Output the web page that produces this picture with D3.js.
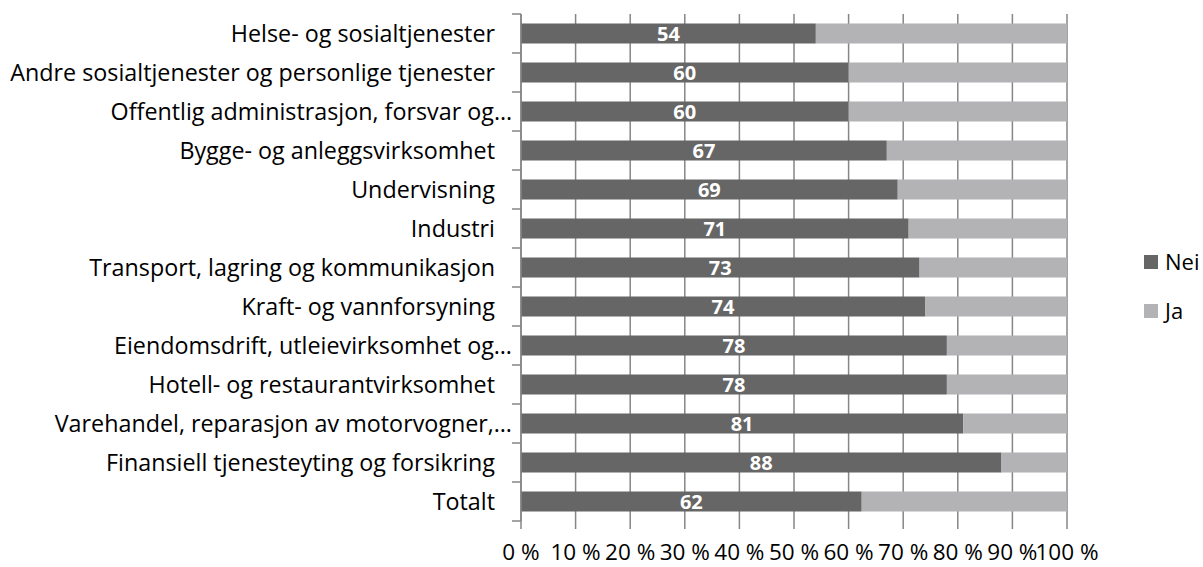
<!DOCTYPE html>
<html>
<head>
<meta charset="utf-8">
<script src="https://cdn.jsdelivr.net/npm/d3@7"></script>
<style>
  html, body { margin: 0; padding: 0; background: #fff; }
  svg { display: block; font-family: "Open Sans", sans-serif; }
</style>
</head>
<body>
<svg width="1203" height="567"></svg>
<script>
var categories = [
    'Helse- og sosialtjenester',
    'Andre sosialtjenester og personlige tjenester',
    'Offentlig administrasjon, forsvar og…',
    'Bygge- og anleggsvirksomhet',
    'Undervisning',
    'Industri',
    'Transport, lagring og kommunikasjon',
    'Kraft- og vannforsyning',
    'Eiendomsdrift, utleievirksomhet og…',
    'Hotell- og restaurantvirksomhet',
    'Varehandel, reparasjon av motorvogner,…',
    'Finansiell tjenesteyting og forsikring',
    'Totalt'
];
var neiValues = [54, 60, 60, 67, 69, 71, 73, 74, 78, 78, 81, 88, 62.4];
var jaValues = [46, 40, 40, 33, 31, 29, 27, 26, 22, 22, 19, 12, 37.6];
var seriesNames = ['Nei', 'Ja'];
var seriesColors = ['#666666', '#b3b3b6'];
var tickValues = [0, 10, 20, 30, 40, 50, 60, 70, 80, 90, 100];

var svg = d3.select('svg');
var plotLeft = 521, plotRight = 1067, plotTop = 14, plotBottom = 521;

var x = d3.scaleLinear().domain([0, 100]).range([plotLeft, plotRight]);
var y = d3.scaleBand().domain(categories).range([plotTop, plotBottom]).paddingInner(0.487).paddingOuter(0.2435);

var rows = categories.map(function (c, i) {
    return { cat: c, nei: neiValues[i], ja: jaValues[i] };
});

// vertical gridlines, continuing below the plot as tick marks
svg.append('g').selectAll('line')
    .data(tickValues)
    .enter()
    .append('line')
    .attr('x1', function (d) { return x(d); })
    .attr('x2', function (d) { return x(d); })
    .attr('y1', plotTop)
    .attr('y2', plotBottom + 8)
    .attr('stroke', '#868686')
    .attr('stroke-width', 1.5);

// bars
var stack = d3.stack().keys(['nei', 'ja'])(rows);
svg.append('g').selectAll('g')
    .data(stack)
    .enter()
    .append('g')
    .attr('fill', function (d, i) { return seriesColors[i]; })
    .selectAll('rect')
    .data(function (d) { return d; })
    .enter()
    .append('rect')
    .attr('x', function (d) { return x(d[0]); })
    .attr('width', function (d) { return x(d[1]) - x(d[0]); })
    .attr('y', function (d) { return y(d.data.cat); })
    .attr('height', y.bandwidth());

// category axis
var step = y.step();
svg.append('line')
    .attr('x1', plotLeft).attr('x2', plotLeft)
    .attr('y1', plotTop).attr('y2', plotBottom)
    .attr('stroke', '#868686')
    .attr('stroke-width', 1.5);
svg.append('g').selectAll('line')
    .data(d3.range(categories.length + 1))
    .enter()
    .append('line')
    .attr('x1', plotLeft - 9).attr('x2', plotLeft)
    .attr('y1', function (i) { return plotTop + i * step; })
    .attr('y2', function (i) { return plotTop + i * step; })
    .attr('stroke', '#868686')
    .attr('stroke-width', 1.5);

svg.append('g').selectAll('text')
    .data(categories)
    .enter()
    .append('text')
    .attr('x', function (d) { return d.slice(-1) === '…' ? 512 : 495; })
    .attr('y', function (d) { return y(d) + y.bandwidth() / 2; })
    .attr('dy', '0.36em')
    .attr('text-anchor', 'end')
    .attr('font-size', 23.3)
    .attr('fill', '#000')
    .text(function (d) { return d; });

// value labels
svg.append('g').selectAll('text')
    .data(rows)
    .enter()
    .append('text')
    .attr('x', function (d) { return (x(0) + x(d.nei)) / 2; })
    .attr('y', function (d) { return y(d.cat) + y.bandwidth() / 2; })
    .attr('dy', '0.37em')
    .attr('text-anchor', 'middle')
    .attr('font-size', 20)
    .attr('font-weight', 'bold')
    .attr('fill', '#fff')
    .text(function (d) { return Math.round(d.nei); });

// value axis labels
svg.append('g').selectAll('text')
    .data(tickValues)
    .enter()
    .append('text')
    .attr('x', function (d) { return x(d); })
    .attr('y', 552)
    .attr('dy', '0.36em')
    .attr('text-anchor', 'middle')
    .attr('font-size', 22.5)
    .attr('fill', '#000')
    .text(function (d) { return d + ' %'; });

// legend
var legend = svg.append('g').selectAll('g')
    .data(seriesNames)
    .enter()
    .append('g')
    .attr('transform', function (d, i) { return 'translate(1144,' + (262 + i * 49) + ')'; });
legend.append('rect')
    .attr('x', 0).attr('y', -7)
    .attr('width', 14).attr('height', 14)
    .attr('fill', function (d, i) { return seriesColors[i]; });
legend.append('text')
    .attr('x', 21)
    .attr('dy', '0.36em')
    .attr('font-size', 22)
    .attr('fill', '#000')
    .text(function (d) { return d; });
</script>
</body>
</html>
